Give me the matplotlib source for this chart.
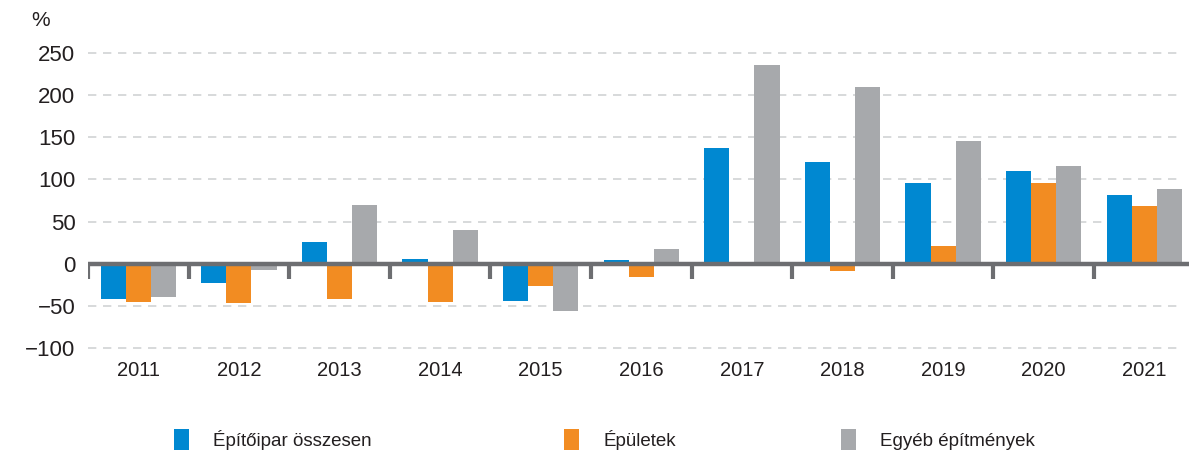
import numpy as np
import matplotlib
matplotlib.use('Agg')
import matplotlib.pyplot as plt
from matplotlib.patches import Patch

plt.rcParams['font.family'] = ['Liberation Sans Narrow', 'Liberation Sans', 'DejaVu Sans']

years = ['2011', '2012', '2013', '2014', '2015', '2016', '2017', '2018', '2019', '2020', '2021']
epitoipar = [-42, -23, 26, 6, -44, 5, 137, 121, 96, 110, 82]
epuletek = [-45, -47, -42, -45, -26, -16, -3, -9, 21, 96, 69]
egyeb = [-40, -7, 70, 40, -56, 18, 236, 210, 146, 116, 89]
series_names = ['Építőipar összesen', 'Épületek', 'Egyéb építmények']
colors = ['#0088d1', '#f28c22', '#a7a9ac']
yticks = [-100, -50, 0, 50, 100, 150, 200, 250]

fig = plt.figure(figsize=(11.89, 4.51), dpi=100)
ax = fig.add_axes([0.074, 0.2246, 0.9307, 0.6616])

x = np.arange(len(years))
w = 0.25
bars = []
for k, (vals, col) in enumerate(zip([epitoipar, epuletek, egyeb], colors)):
    b = ax.bar(x + (k - 1) * w, vals, w, color=col, zorder=3)
    bars.append(b)

ax.set_xlim(-0.5, 10.5)
ax.set_ylim(-102, 252)

# dashed grid
for yv in yticks:
    if yv != 0:
        ax.hlines(yv, -0.5, 10.37, colors='#d1d3d4', linestyles=(0, (5, 4)),
                  linewidth=1.2, zorder=1)

# zero axis with category separators
ax.axhline(0, color='#6d6e71', linewidth=3.2, zorder=4)
ax.vlines(np.arange(-0.5, 10, 1), -18, 0, colors='#6d6e71', linewidth=3, zorder=4)

for s in ax.spines.values():
    s.set_visible(False)

ax.set_yticks(yticks)
ax.set_yticklabels(['\u2212100', '\u221250', '0', '50', '100', '150', '200', '250'])
ax.set_xticks(x)
ax.set_xticklabels(years)
ax.tick_params(axis='y', length=0, pad=9, labelsize=16, labelcolor='#231f20')
ax.tick_params(axis='x', length=0, pad=8, labelsize=14.5, labelcolor='#231f20')

fig.text(0.034, 0.955, '%', fontsize=15, color='#231f20', ha='center', va='center')

# legend entries
legend_x = [0.132, 0.46, 0.693]
for name, col, lx in zip(series_names, colors, legend_x):
    fig.legend(handles=[Patch(facecolor=col, label=name)], loc='center left',
               bbox_to_anchor=(lx, 0.025), frameon=False, fontsize=13.5,
               handlelength=0.8, handleheight=1.3, handletextpad=1.3,
               labelcolor='#231f20')

fig.savefig('out.png', dpi=100)
